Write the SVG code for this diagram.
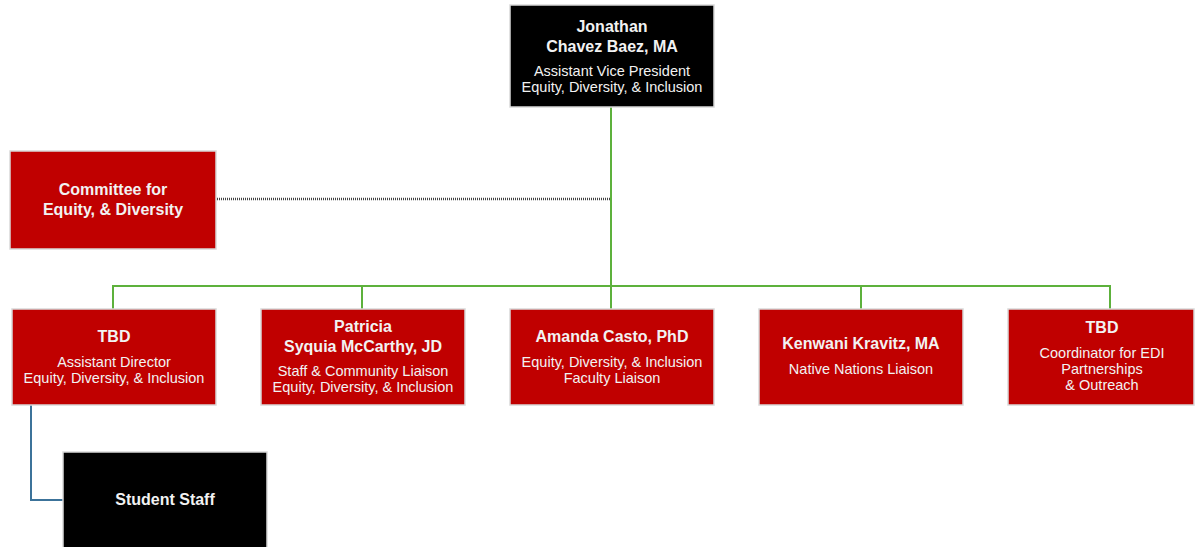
<svg xmlns="http://www.w3.org/2000/svg" width="1196" height="547" viewBox="0 0 1196 547">
  <style>
    .box-red { fill: #C00000; stroke: #D9D9D9; stroke-width: 1.5; }
    .box-black { fill: #000000; stroke: #D9D9D9; stroke-width: 1.5; }
    .name { font-family: "Liberation Sans", Arial, sans-serif; font-weight: bold; font-size: 16px; fill: #F2F2F2; text-anchor: middle; }
    .title { font-family: "Liberation Sans", Arial, sans-serif; font-size: 14.5px; fill: #F2F2F2; text-anchor: middle; }
    .green { fill: none; stroke: #5DB13C; stroke-width: 2; }
    .dotted { fill: none; stroke: #444444; stroke-width: 2.5; stroke-dasharray: 1 1; }
    .blue { fill: none; stroke: #3C739A; stroke-width: 2; }
  </style>

  <g id="connectors">
    <path class="green" d="M611 107 V286 M113 309 V286 H1110 V309 M362 286 V309 M611 286 V309 M861 286 V309"/>
    <path class="dotted" d="M217 199 H610"/>
    <path class="blue" d="M31 405 V500 H63"/>
  </g>

  <g id="avp">
    <rect class="box-black" x="510" y="5" width="204" height="102"/>
    <text class="name" x="612" y="32">Jonathan</text>
    <text class="name" x="612" y="52">Chavez Baez, MA</text>
    <text class="title" x="612" y="76">Assistant Vice President</text>
    <text class="title" x="612" y="92">Equity, Diversity, &amp; Inclusion</text>
  </g>

  <g id="committee">
    <rect class="box-red" x="10" y="151" width="206" height="98"/>
    <text class="name" x="113" y="195">Committee for</text>
    <text class="name" x="113" y="215">Equity, &amp; Diversity</text>
  </g>

  <g id="assistant-director">
    <rect class="box-red" x="12" y="309" width="204" height="96"/>
    <text class="name" x="114" y="342">TBD</text>
    <text class="title" x="114" y="367">Assistant Director</text>
    <text class="title" x="114" y="383">Equity, Diversity, &amp; Inclusion</text>
  </g>

  <g id="staff-liaison">
    <rect class="box-red" x="261" y="309" width="204" height="96"/>
    <text class="name" x="363" y="332">Patricia</text>
    <text class="name" x="363" y="352">Syquia McCarthy, JD</text>
    <text class="title" x="363" y="376">Staff &amp; Community Liaison</text>
    <text class="title" x="363" y="392">Equity, Diversity, &amp; Inclusion</text>
  </g>

  <g id="faculty-liaison">
    <rect class="box-red" x="510" y="309" width="204" height="96"/>
    <text class="name" x="612" y="342">Amanda Casto, PhD</text>
    <text class="title" x="612" y="367">Equity, Diversity, &amp; Inclusion</text>
    <text class="title" x="612" y="383">Faculty Liaison</text>
  </g>

  <g id="native-nations-liaison">
    <rect class="box-red" x="759" y="309" width="204" height="96"/>
    <text class="name" x="861" y="349">Kenwani Kravitz, MA</text>
    <text class="title" x="861" y="374">Native Nations Liaison</text>
  </g>

  <g id="coordinator">
    <rect class="box-red" x="1008" y="309" width="186" height="96"/>
    <text class="name" x="1102" y="333">TBD</text>
    <text class="title" x="1102" y="358">Coordinator for EDI</text>
    <text class="title" x="1102" y="374">Partnerships</text>
    <text class="title" x="1102" y="390">&amp; Outreach</text>
  </g>

  <g id="student-staff">
    <rect class="box-black" x="63" y="452" width="204" height="100"/>
    <text class="name" x="165" y="505">Student Staff</text>
  </g>
</svg>
